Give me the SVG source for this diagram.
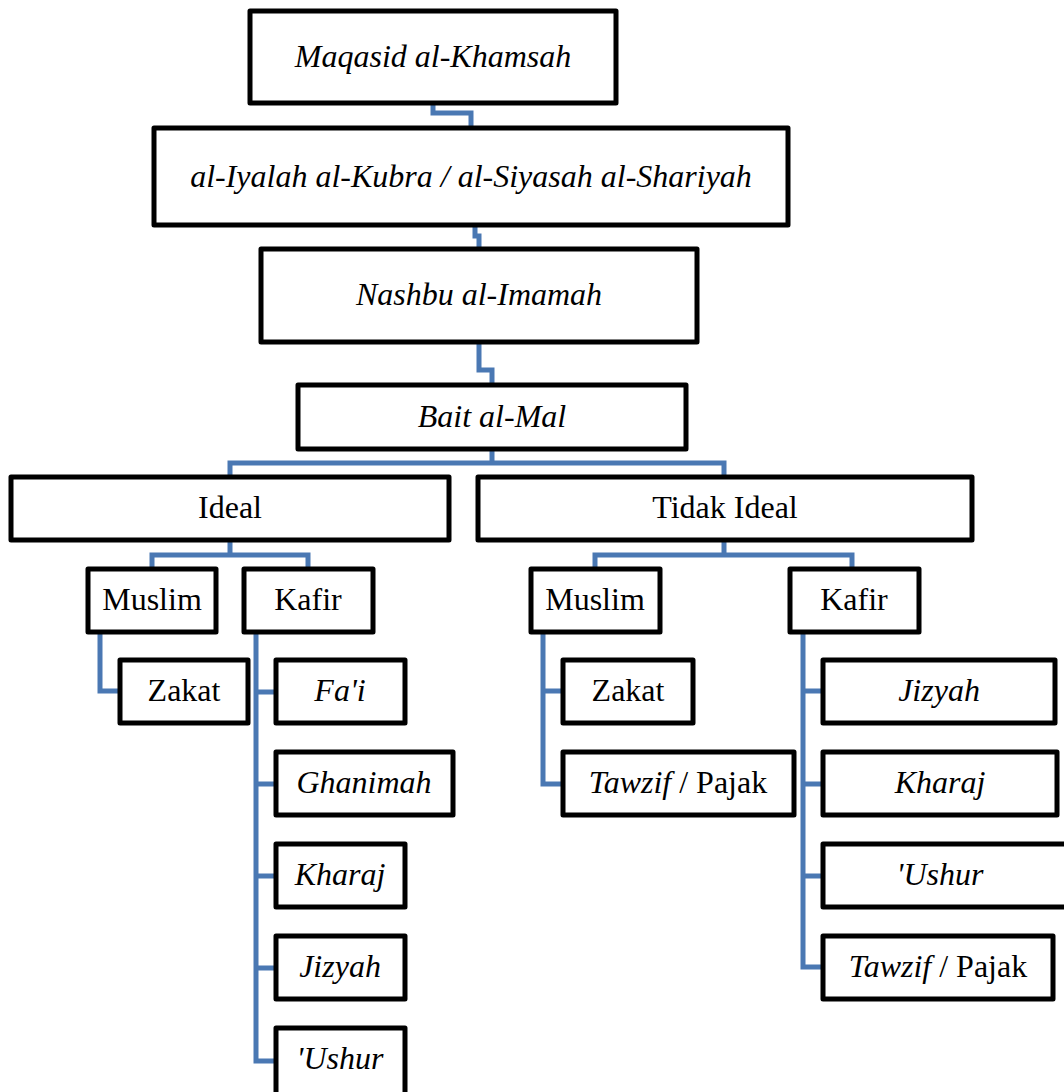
<svg xmlns="http://www.w3.org/2000/svg" width="1064" height="1092" viewBox="0 0 1064 1092">
<style>
.box{fill:#fff;stroke:#000;stroke-width:5;stroke-linejoin:round;}
.t{font-family:"Liberation Serif","Times New Roman",serif;font-size:32px;fill:#000;text-anchor:middle;}
.i{font-style:italic;}
.c{fill:none;stroke:#4a78b3;stroke-width:5;}
</style>
<rect width="1064" height="1092" fill="#fff"/>
<g id="connectors">
<path class="c" d="M433,105 V113 H471 V126"/>
<path class="c" d="M475,227 V236 H479 V247"/>
<path class="c" d="M479,342 V370 H492 V385"/>
<path class="c" d="M492,449 V463 M230,477 V463 H724 V477"/>
<path class="c" d="M230,540 V555 M152,569 V555 H308 V569"/>
<path class="c" d="M724,540 V555 M595,569 V555 H852 V569"/>
<path class="c" d="M100,632 V691 H120"/>
<path class="c" d="M256,632 V1061 H276 M256,692 H276 M256,784 H276 M256,876 H276 M256,968 H276"/>
<path class="c" d="M543,632 V784 H563 M543,691 H563"/>
<path class="c" d="M803,632 V967 H823 M803,691 H823 M803,784 H823 M803,876 H823"/>
</g>
<g id="n1"><rect class="box" x="250" y="11" width="366" height="92"/><text class="t i" x="433" y="67">Maqasid al-Khamsah</text></g>
<g id="n2"><rect class="box" x="154" y="128" width="634" height="97"/><text class="t i" x="471" y="187">al-Iyalah al-Kubra / al-Siyasah al-Shariyah</text></g>
<g id="n3"><rect class="box" x="261" y="249" width="436" height="93"/><text class="t i" x="479" y="305">Nashbu al-Imamah</text></g>
<g id="n4"><rect class="box" x="298" y="385" width="388" height="64"/><text class="t i" x="492" y="427">Bait al-Mal</text></g>
<g id="ideal"><rect class="box" x="11" y="477" width="438" height="63"/><text class="t" x="230" y="518">Ideal</text></g>
<g id="tidak"><rect class="box" x="478" y="477" width="494" height="63"/><text class="t" x="725" y="518">Tidak Ideal</text></g>
<g id="muslimL"><rect class="box" x="88" y="569" width="128" height="63"/><text class="t" x="152" y="610">Muslim</text></g>
<g id="kafirL"><rect class="box" x="244" y="569" width="129" height="63"/><text class="t" x="308" y="610">Kafir</text></g>
<g id="zakatL"><rect class="box" x="120" y="660" width="128" height="63"/><text class="t" x="184" y="701">Zakat</text></g>
<g id="faiL"><rect class="box" x="276" y="660" width="129" height="63"/><text class="t i" x="340" y="701">Fa'i</text></g>
<g id="ghanimahL"><rect class="box" x="276" y="752" width="177" height="63"/><text class="t i" x="364" y="793">Ghanimah</text></g>
<g id="kharajL"><rect class="box" x="276" y="844" width="129" height="63"/><text class="t i" x="340" y="885">Kharaj</text></g>
<g id="jizyahL"><rect class="box" x="276" y="936" width="129" height="63"/><text class="t i" x="340" y="977">Jizyah</text></g>
<g id="ushurL"><rect class="box" x="276" y="1028" width="129" height="70"/><text class="t i" x="340" y="1069">'Ushur</text></g>
<g id="muslimR"><rect class="box" x="531" y="569" width="129" height="63"/><text class="t" x="595" y="610">Muslim</text></g>
<g id="kafirR"><rect class="box" x="790" y="569" width="129" height="63"/><text class="t" x="854" y="610">Kafir</text></g>
<g id="zakatR"><rect class="box" x="563" y="660" width="130" height="63"/><text class="t" x="628" y="701">Zakat</text></g>
<g id="tawzifM"><rect class="box" x="563" y="752" width="231" height="63"/><text class="t" x="678" y="793"><tspan class="i">Tawzif</tspan> / Pajak</text></g>
<g id="jizyahR"><rect class="box" x="823" y="660" width="232" height="63"/><text class="t i" x="939" y="701">Jizyah</text></g>
<g id="kharajR"><rect class="box" x="823" y="752" width="234" height="63"/><text class="t i" x="940" y="793">Kharaj</text></g>
<g id="ushurR"><rect class="box" x="823" y="844" width="250" height="63"/><text class="t i" x="940" y="885">'Ushur</text></g>
<g id="tawzifK"><rect class="box" x="823" y="936" width="230" height="63"/><text class="t" x="938" y="977"><tspan class="i">Tawzif</tspan> / Pajak</text></g>
</svg>
